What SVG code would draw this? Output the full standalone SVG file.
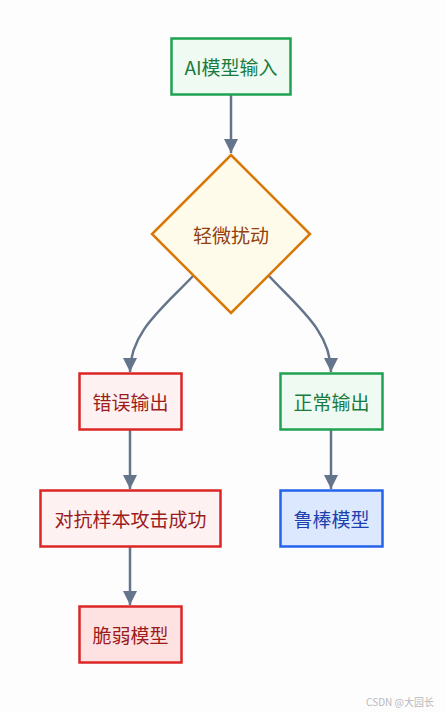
<svg xmlns="http://www.w3.org/2000/svg" width="446" height="713" viewBox="0 0 446 713">
<style>
.lbl{font-family:"Noto Sans CJK SC","Noto Sans",sans-serif;font-size:19px;text-anchor:middle;dominant-baseline:central}
.edge{fill:none;stroke:#64748b;stroke-width:2.5}
.green rect{fill:#eefaf2;stroke:#1fa352;stroke-width:2.5}
.green text{fill:#1b7a3e}
.red rect{fill:#fef1f1;stroke:#dc2626;stroke-width:2.5}
.red text{fill:#9b1c1c}
.red2 rect{fill:#fee2e2;stroke:#dc2626;stroke-width:2.5}
.blue rect{fill:#dbe8fe;stroke:#2563eb;stroke-width:2.5}
.blue text{fill:#1e40af}
</style>
<defs>
<marker id="arr" viewBox="0 0 14 14" refX="14" refY="7" markerWidth="14" markerHeight="14" markerUnits="userSpaceOnUse" orient="auto">
<path d="M0,0 L14,7 L0,14 Z" fill="#64748b"/>
</marker>
</defs>
<rect width="446" height="713" fill="#fdfdfe"/>
<g id="connectors">
<path class="edge" d="M231,95 L231,153" marker-end="url(#arr)"/>
<path class="edge" d="M193,276 C163,308 130,332 130,372" marker-end="url(#arr)"/>
<path class="edge" d="M269,276 C299,308 331,332 331,372" marker-end="url(#arr)"/>
<path class="edge" d="M130,430 L130,489" marker-end="url(#arr)"/>
<path class="edge" d="M331,430 L331,489" marker-end="url(#arr)"/>
<path class="edge" d="M130,547 L130,605" marker-end="url(#arr)"/>
</g>
<g id="input" class="green">
<rect x="171.5" y="38.5" width="119" height="56"/>
<text class="lbl" x="231" y="66.5">AI模型输入</text>
</g>
<g id="perturb">
<polygon points="231,155 310,234 231,313 152,234" fill="#fffbeb" stroke="#d97706" stroke-width="2.5"/>
<text class="lbl" x="231" y="234" fill="#92400e">轻微扰动</text>
</g>
<g id="wrong" class="red">
<rect x="79.5" y="373.5" width="102" height="56"/>
<text class="lbl" x="130.5" y="401.5">错误输出</text>
</g>
<g id="normal" class="green">
<rect x="280.5" y="373.5" width="102" height="56"/>
<text class="lbl" x="331.5" y="401.5">正常输出</text>
</g>
<g id="attack" class="red">
<rect x="40.5" y="490.5" width="180" height="56"/>
<text class="lbl" x="130.5" y="518.5">对抗样本攻击成功</text>
</g>
<g id="robust" class="blue">
<rect x="280.5" y="490.5" width="102" height="56"/>
<text class="lbl" x="331.5" y="518.5">鲁棒模型</text>
</g>
<g id="fragile" class="red red2">
<rect x="79.5" y="606.5" width="102" height="56"/>
<text class="lbl" x="130.5" y="634.5">脆弱模型</text>
</g>
<text x="434" y="706" font-family="'Noto Sans CJK SC','Noto Sans',sans-serif" font-size="10" fill="#b8b8bc" text-anchor="end">CSDN @大园长</text>
</svg>
